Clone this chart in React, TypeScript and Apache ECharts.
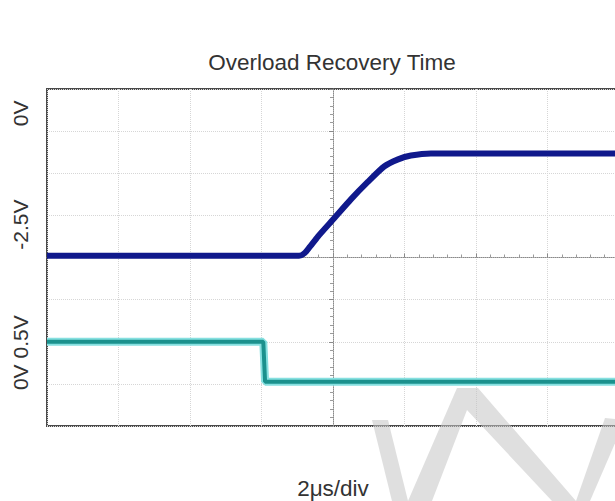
import React, { useEffect, useRef } from "react";
import * as echarts from "echarts";

// time axis in µs (2 µs per division), vertical axis in divisions
const xMin = -8;
const xMax = 12;
const xStep = 2;
const yMin = -4;
const yMax = 4;
const yStep = 1;

const blueX = [-8, -0.95, -0.8, -0.65, -0.42, 0, 0.5, 0.98, 1.43, 1.82, 2.18, 2.74, 12];
const blueY = [0.04, 0.04, 0.1, 0.25, 0.5, 0.9, 1.38, 1.8, 2.16, 2.33, 2.42, 2.47, 2.47];

const cyanX = [-8, -1.95, -1.9, 12];
const cyanY = [-2.0, -2.0, -2.95, -2.95];

const yLabelValues = [3.42, 0.78, -2.26];
const yLabelTexts = ["0V", "-2.5V", "0V 0.5V"];

const titleText = "Overload Recovery Time";
const xAxisText = "2μs/div";

const FONT = "'Liberation Sans', Arial, sans-serif";

export default function App() {
  const ref = useRef<HTMLDivElement>(null);

  useEffect(() => {
    if (!ref.current) return;
    const chart = echarts.init(ref.current, undefined, { renderer: "svg" });
    const zip = (xs: number[], ys: number[]) => xs.map((x, i) => [x, ys[i]]);
    const gridLine = { show: true, lineStyle: { color: "#d6d6d6", type: "dotted" as const, width: 1 } };
    const centerLine = { color: "#8a8a8a", type: "dotted" as const, width: 1 };
    const wmStyle = { fill: "#c4c4c4", opacity: 0.55 };

    chart.setOption({
      animation: false,
      backgroundColor: "#ffffff",
      title: [
        {
          text: titleText,
          left: 327,
          top: 46,
          textAlign: "center",
          textStyle: { fontFamily: FONT, fontSize: 22.5, fontWeight: "normal", color: "#333333" },
        },
        {
          text: xAxisText,
          left: 328,
          top: 472,
          textAlign: "center",
          textStyle: { fontFamily: FONT, fontSize: 22.5, fontWeight: "normal", color: "#333333" },
        },
      ],
      grid: {
        left: 47,
        top: 89,
        width: 715,
        height: 337,
        show: true,
        borderColor: "#4a4a4a",
        borderWidth: 2,
        backgroundColor: "transparent",
        containLabel: false,
        outerBoundsMode: "none",
      },
      xAxis: [
        {
          type: "value",
          min: xMin,
          max: xMax,
          interval: xStep,
          axisLine: { show: true, onZero: true, lineStyle: centerLine },
          axisTick: { show: true, inside: true, length: 4, lineStyle: { color: "#8a8a8a" } },
          minorTick: { show: true, splitNumber: 5, length: 3, lineStyle: { color: "#9a9a9a" } },
          axisLabel: { show: false },
          splitLine: gridLine,
        },
      ],
      yAxis: [
        {
          type: "value",
          min: yMin,
          max: yMax,
          interval: yStep,
          position: "left",
          axisLine: { show: false, onZero: false },
          axisTick: { show: false },
          splitLine: gridLine,
          axisLabel: {
            show: true,
            customValues: yLabelValues,
            formatter: (v: number) => {
              const i = yLabelValues.indexOf(v);
              return i >= 0 ? yLabelTexts[i] : "";
            },
            rotate: 90,
            margin: 16,
            fontFamily: FONT,
            fontSize: 21,
            color: "#333333",
          },
        },
        {
          type: "value",
          min: yMin,
          max: yMax,
          interval: yStep,
          axisLine: { show: true, onZero: true, lineStyle: centerLine },
          axisTick: { show: true, inside: true, length: 4, lineStyle: { color: "#8a8a8a" } },
          minorTick: { show: true, splitNumber: 5, length: 3, lineStyle: { color: "#9a9a9a" } },
          axisLabel: { show: false },
          splitLine: { show: false },
        },
      ],
      graphic: [
        {
          type: "polygon",
          z: 1,
          shape: { points: [[372, 420], [388, 420], [408, 501], [392, 501]] },
          style: wmStyle,
        },
        {
          type: "polygon",
          z: 1,
          shape: {
            points: [
              [457, 388], [478, 388], [576, 501], [552, 501], [467, 410], [432, 501], [408, 501],
            ],
          },
          style: wmStyle,
        },
        {
          type: "polygon",
          z: 1,
          shape: { points: [[576, 501], [590, 501], [625, 420], [605, 418]] },
          style: wmStyle,
        },
      ],
      series: [
        {
          type: "line",
          xAxisIndex: 0,
          yAxisIndex: 0,
          data: zip(cyanX, cyanY),
          symbol: "none",
          lineStyle: { color: "#86e0e0", width: 8 },
          z: 3,
        },
        {
          type: "line",
          xAxisIndex: 0,
          yAxisIndex: 0,
          data: zip(cyanX, cyanY),
          symbol: "none",
          lineStyle: { color: "#1b918d", width: 4 },
          z: 4,
        },
        {
          type: "line",
          xAxisIndex: 0,
          yAxisIndex: 0,
          data: zip(blueX, blueY),
          symbol: "none",
          smooth: 0.2,
          lineStyle: { color: "#10198c", width: 6 },
          z: 5,
        },
      ],
    });

    return () => chart.dispose();
  }, []);

  return (
    <div
      ref={ref}
      style={{ position: "fixed", left: 0, top: 0, width: 615, height: 501 }}
    />
  );
}
